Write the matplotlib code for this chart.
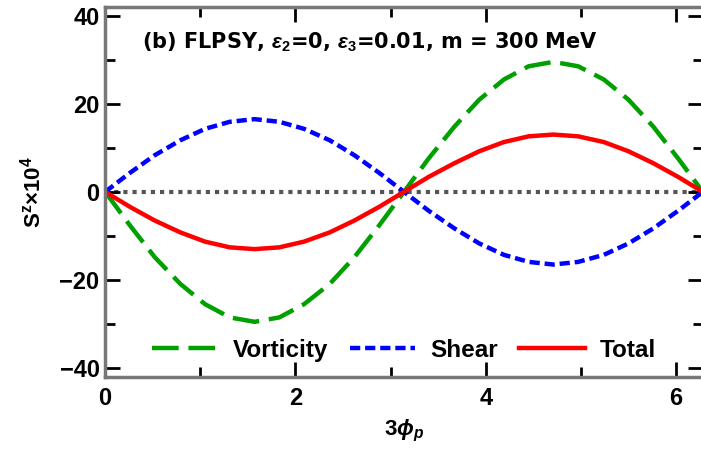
import numpy as np
import matplotlib.pyplot as plt
from matplotlib.ticker import MultipleLocator

plt.rcParams['font.family'] = ['Liberation Sans', 'DejaVu Sans']
plt.rcParams['font.weight'] = 'bold'
plt.rcParams['axes.labelweight'] = 'bold'
plt.rcParams['mathtext.fontset'] = 'custom'
plt.rcParams['mathtext.rm'] = 'Liberation Sans:bold'
plt.rcParams['mathtext.it'] = 'Liberation Sans:bold:italic'
plt.rcParams['mathtext.bf'] = 'Liberation Sans:bold'

# 3*phi_p samples over one period
phi = [0.00, 0.26, 0.52, 0.79, 1.05, 1.31, 1.57, 1.83, 2.09, 2.36, 2.62, 2.88,
       3.14, 3.40, 3.67, 3.93, 4.19, 4.45, 4.71, 4.97, 5.24, 5.50, 5.76, 6.02, 6.28]
vorticity = [0.0, -7.6, -14.8, -20.9, -25.5, -28.5, -29.5, -28.5, -25.5, -20.9, -14.8, -7.6,
             0.0, 7.6, 14.8, 20.9, 25.5, 28.5, 29.5, 28.5, 25.5, 20.9, 14.8, 7.6, 0.0]
shear = [0.0, 4.3, 8.3, 11.7, 14.3, 15.9, 16.5, 15.9, 14.3, 11.7, 8.3, 4.3,
         0.0, -4.3, -8.3, -11.7, -14.3, -15.9, -16.5, -15.9, -14.3, -11.7, -8.3, -4.3, 0.0]
total = [0.0, -3.4, -6.5, -9.2, -11.3, -12.6, -13.0, -12.6, -11.3, -9.2, -6.5, -3.4,
         0.0, 3.4, 6.5, 9.2, 11.3, 12.6, 13.0, 12.6, 11.3, 9.2, 6.5, 3.4, 0.0]

fig = plt.figure(figsize=(7.01, 4.53), dpi=100)
ax = fig.add_axes([0.150, 0.168, 0.853, 0.817])

ax.plot([0, 2 * np.pi], [0, 0], color='#555555', lw=3.0, ls=(0, (1.0, 1.2)), zorder=1)
ax.plot(phi, vorticity, color='#00a000', lw=3.2, ls=(0, (6.0, 2.2)), label='Vorticity')
ax.plot(phi, shear, color='#0000ff', lw=3.2, ls=(0, (2.3, 1.1)), label='Shear')
ax.plot(phi, total, color='#ff0000', lw=3.2, label='Total')

ax.set_xlim(0, 2 * np.pi)
ax.set_ylim(-42, 42)
ax.xaxis.set_major_locator(MultipleLocator(2))
ax.xaxis.set_minor_locator(MultipleLocator(1))
ax.yaxis.set_major_locator(MultipleLocator(20))
ax.yaxis.set_minor_locator(MultipleLocator(10))
ax.tick_params(which='both', direction='in', top=True, right=True, color='black',
               labelsize=17)
ax.tick_params(axis='x', pad=7)
ax.tick_params(axis='y', pad=4)
ax.tick_params(which='major', length=11, width=2)
ax.tick_params(which='minor', length=7, width=2)
for s in ax.spines.values():
    s.set_color('#777777')
    s.set_linewidth(2.5)

ax.set_xlabel(r'3$\phi_p$', fontsize=16, labelpad=6)
ax.set_ylabel(r'S$^{\mathrm{z}}$×10$^4$', fontsize=16, labelpad=10)
ax.text(0.062, 0.886, r'(b) FLPSY, $\varepsilon_2$=0, $\varepsilon_3$=0.01, m = 300 MeV',
        transform=ax.transAxes, fontsize=15, fontweight='bold', va='baseline',
        family=['DejaVu Sans'])

ax.legend(loc='lower center', ncol=3, frameon=False, fontsize=17.5, handlelength=2.7,
          handletextpad=0.6, columnspacing=0.9, bbox_to_anchor=(0.5, -0.018))

fig.savefig('out.png', dpi=100)
